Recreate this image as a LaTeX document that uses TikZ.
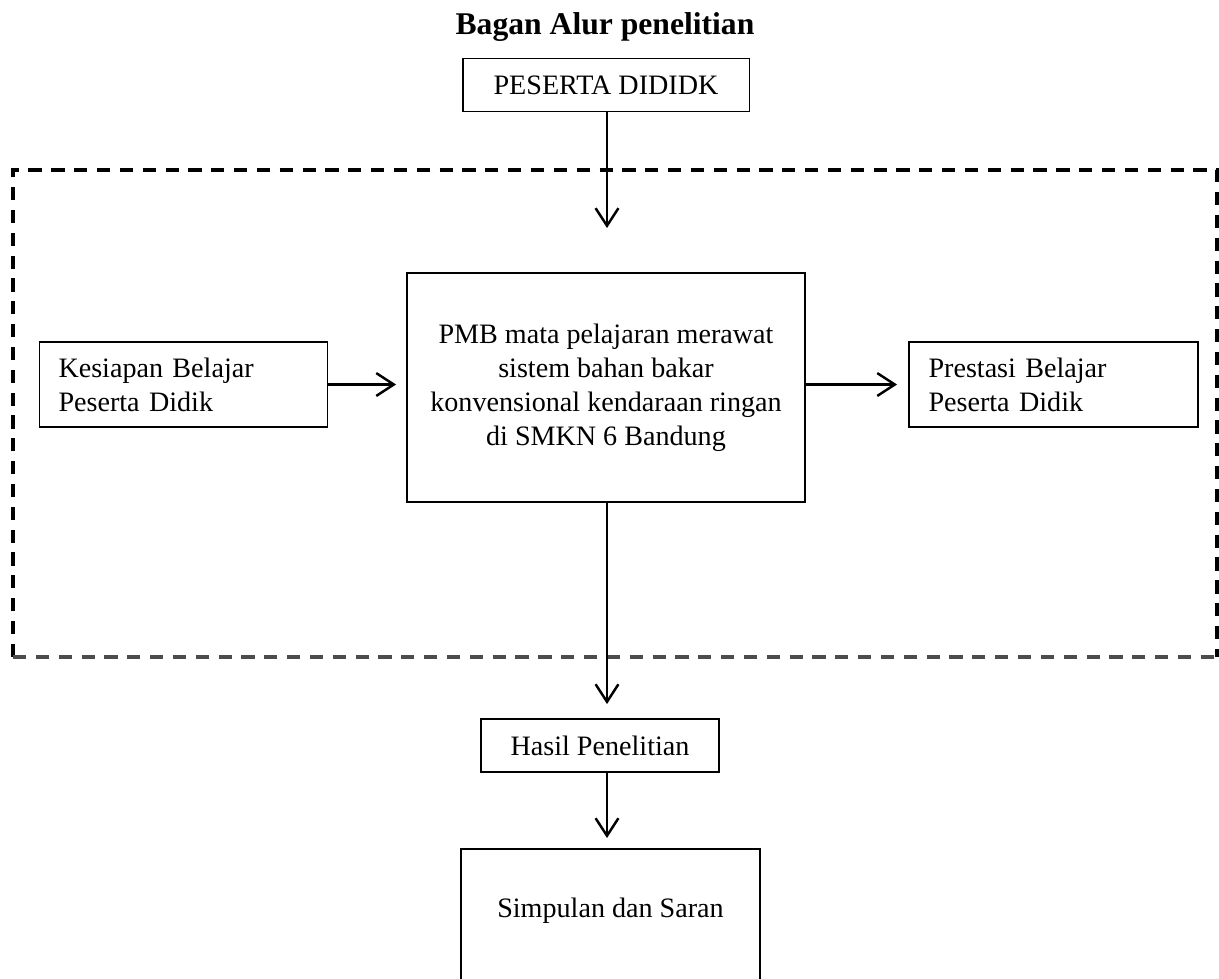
\documentclass[tikz,border=0pt]{standalone}
\usepackage{fontspec}
\setmainfont{Liberation Serif}
\usepackage{tikz}
\usetikzlibrary{arrows.meta}

\tikzset{
  kotak/.style={draw, line width=1.1pt, font=\fontsize{16}{19.3}\selectfont},
  garis/.style={line width=1.9pt, dash pattern=on 7.5pt off 5.5pt}
}

\begin{document}
\begin{tikzpicture}[x=0.02cm, y=-0.02cm, >={Straight Barb[length=10pt,width=13pt]}]
      \useasboundingbox (0,0) rectangle (1219,978);
      \clip (0,0) rectangle (1219,978);
      \node (judul) at (605,27) {\fontsize{18}{21}\selectfont\bfseries Bagan Alur penelitian};
      \node[kotak, minimum width=5.74cm, minimum height=1.06cm] (peserta) at (606,85) {PESERTA DIDIDK};
      % kotak putus-putus
      \draw[garis] (13,657) -- (13,170) -- (1217,170) -- (1217,657);
      \draw[garis, black!70] (13,657) -- (1217,657);
      \coordinate (masuk) at (607,228);
      \node[kotak, minimum width=7.96cm, minimum height=4.58cm, align=center] (pmb) at (606,387.5)
        {PMB mata pelajaran merawat\\ sistem bahan bakar\\ konvensional kendaraan ringan\\ di SMKN 6 Bandung};
      \node[kotak, text width=5cm, inner xsep=0.38cm, minimum height=1.7cm, align=left] (kesiapan) at (183.5,384.5)
        {Kesiapan Belajar\\ Peserta Didik};
      \node[kotak, text width=5cm, inner xsep=0.39cm, minimum height=1.7cm, align=left] (prestasi) at (1053.5,384.5)
        {Prestasi Belajar\\ Peserta Didik};
      \node[kotak, minimum width=4.76cm, minimum height=1.06cm] (hasil) at (600,745.5) {Hasil Penelitian};
      \node[kotak, minimum width=5.98cm, anchor=north, text height=1.25cm, text depth=2.1cm] (simpulan) at (610.5,848)
        {Simpulan dan Saran};
      \draw [->, line width=1.4pt] (peserta.south -| masuk) -- (masuk);
      \draw [->, line width=1.4pt, shorten >=0.2cm] (kesiapan.east) -- (kesiapan.east -| pmb.west);
      \draw [->, line width=1.4pt, shorten >=0.22cm] (pmb.east |- prestasi.west) -- (prestasi.west);
      \draw [->, line width=1.4pt, shorten >=0.28cm] (pmb.south -| masuk) -- (hasil.north -| masuk);
      \draw [->, line width=1.4pt, shorten >=0.2cm] (hasil.south -| masuk) -- (simpulan.north -| masuk);
    \end{tikzpicture}
\end{document}
